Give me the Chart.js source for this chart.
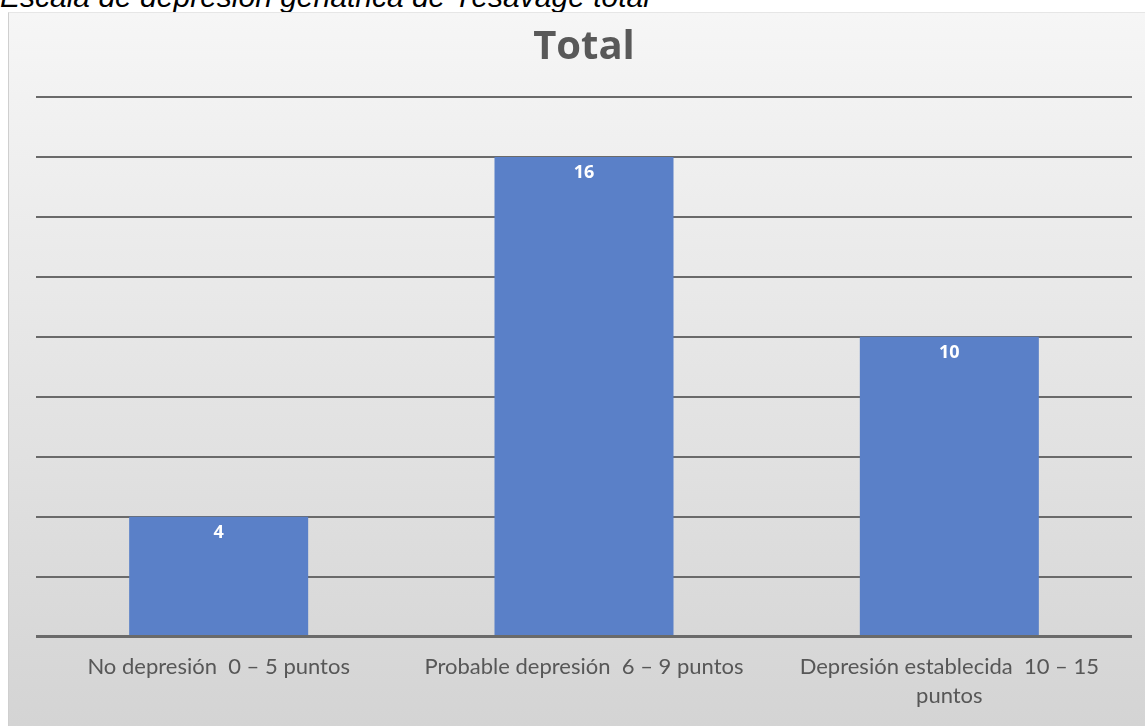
<!DOCTYPE html>
<html>
<head>
<meta charset="utf-8">
<script src="https://cdn.jsdelivr.net/npm/chart.js@4/dist/chart.umd.min.js"></script>
<style>
  html, body { margin:0; padding:0; background:#ffffff; width:1145px; height:726px; overflow:hidden; }
  #cap { position:absolute; left:0; top:-18px; font-family:"Liberation Sans", Arial, sans-serif; font-style:italic; font-size:30px; line-height:30px; color:#000; white-space:nowrap; }
  #box { position:absolute; left:8px; top:12px; width:1137px; height:714px; box-sizing:border-box; border-left:1px solid #cfcfcf; border-top:1px solid #e6e6e6; }
  canvas { display:block; }
</style>
</head>
<body>
<div id="cap">Escala de depresión geriátrica de Yesavage total</div>
<div id="box"><canvas id="c" width="1136" height="713"></canvas></div>
<script>
const chartTitle = "Total";
const categories = [
  "No depresión  0 – 5 puntos",
  "Probable depresión  6 – 9 puntos",
  ["Depresión establecida  10 – 15", "puntos"]
];
const values = [4, 16, 10];
const yTicks = [0, 2, 4, 6, 8, 10, 12, 14, 16, 18];

const bgPlugin = {
  id: 'bg',
  beforeDraw(chart) {
    const ctx = chart.ctx;
    const g = ctx.createLinearGradient(0, 0, 0, chart.height);
    g.addColorStop(0, '#f6f6f6');
    g.addColorStop(1, '#d4d4d4');
    ctx.save();
    ctx.fillStyle = g;
    ctx.fillRect(0, 0, chart.width, chart.height);
    ctx.restore();
  }
};

const labelPlugin = {
  id: 'vals',
  afterDatasetsDraw(chart) {
    const ctx = chart.ctx;
    const meta = chart.getDatasetMeta(0);
    ctx.save();
    ctx.fillStyle = '#ffffff';
    ctx.font = 'bold 18px "Open Sans", sans-serif';
    ctx.textAlign = 'center';
    ctx.textBaseline = 'middle';
    meta.data.forEach((bar, i) => {
      ctx.fillText(String(chart.data.datasets[0].data[i]), bar.x, bar.y + 16);
    });
    ctx.restore();
  }
};

new Chart(document.getElementById('c'), {
  type: 'bar',
  data: {
    labels: categories,
    datasets: [{
      data: values,
      backgroundColor: '#5a80c8',
      borderWidth: 0,
      barPercentage: 0.49,
      categoryPercentage: 1.0
    }]
  },
  options: {
    responsive: false,
    animation: false,
    layout: { padding: { left: 27, right: 13, top: 0, bottom: 0 } },
    plugins: {
      legend: { display: false },
      tooltip: { enabled: false },
      title: {
        display: true,
        text: chartTitle,
        color: '#595959',
        font: { family: '"Open Sans", sans-serif', size: 40, weight: 'bold' },
        padding: { top: 11, bottom: 25 }
      }
    },
    scales: {
      x: {
        grid: { display: false, drawTicks: false },
        border: { display: false },
        ticks: {
          color: '#575757',
          padding: 15,
          maxRotation: 0,
          autoSkip: false,
          font: { family: 'Lato, sans-serif', size: 22, lineHeight: 1.35 }
        }
      },
      y: {
        min: 0,
        max: yTicks[yTicks.length - 1],
        afterBuildTicks(axis) { axis.ticks = yTicks.map(v => ({ value: v })); },
        ticks: { display: false },
        grid: {
          drawTicks: false,
          color: '#6a6a6a',
          lineWidth: (c) => (c.tick && c.tick.value === 0 ? 3 : 2)
        },
        border: { display: false }
      }
    }
  },
  plugins: [bgPlugin, labelPlugin]
});
</script>
</body>
</html>
